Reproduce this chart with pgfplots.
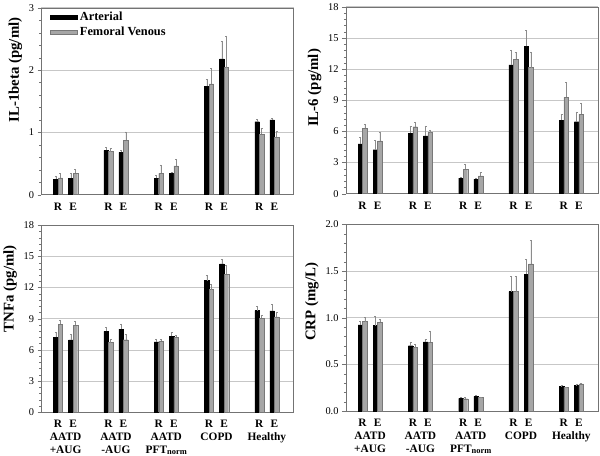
\documentclass[border=0pt]{standalone}
\usepackage{pgfplots}
\pgfplotsset{compat=1.18}
\usepackage{fontspec}
\setmainfont{Liberation Serif}
\definecolor{barg}{RGB}{166,166,166}
\definecolor{bargedge}{RGB}{120,120,120}
\pgfplotsset{
  panel/.style={
    scale only axis, width=255pt, height=189pt, anchor=south west,
    xmin=0.52, xmax=5.53, ymin=0, clip=false,
    ymajorgrids, major grid style={line width=0.6pt, black!22},
    axis line style={black!55},
    xtick={0.85,1.15,1.85,2.15,2.85,3.15,3.85,4.15,4.85,5.15},
    xticklabels={R,E,R,E,R,E,R,E,R,E},
    x tick style={draw=none},
    x tick label style={font=\bfseries\fontsize{11.5}{11.5}\selectfont, yshift=-1pt},
    ytick pos=left, tick align=outside, minor y tick num=4,
    major tick length=4pt, minor tick length=2pt,
    y tick style={black!55},
    y tick label style={font=\fontsize{10.5}{10.5}\selectfont},
    /pgf/number format/assume math mode=true,
    ylabel style={font=\bfseries\fontsize{15}{15}\selectfont},
  },
  art/.style={ybar, bar shift=0pt, bar width=0.09, fill=black, draw=black, line width=0.3pt,
    error bars/.cd, y dir=plus, y explicit,
    error bar style={black!45, line width=0.5pt},
    error mark options={rotate=90, black!45, mark size=1pt}},
  fem/.style={ybar, bar shift=0pt, bar width=0.09, fill=barg, draw=bargedge, line width=0.3pt,
    error bars/.cd, y dir=plus, y explicit,
    error bar style={black!45, line width=0.5pt},
    error mark options={rotate=90, black!45, mark size=1pt}},
}
\tikzset{glab/.style={font=\bfseries\fontsize{11.5}{13}\selectfont, align=center, anchor=north, inner sep=0pt, yshift=-21pt}}
\newcommand{\grouplabels}{%
  \node[glab] at (axis cs:1,0) {AATD\\+AUG};
  \node[glab] at (axis cs:2,0) {AATD\\-AUG};
  \node[glab] at (axis cs:3,0) {AATD\\PFT\raisebox{-0.8pt}{\fontsize{8.5}{8.5}\selectfont norm}};
  \node[glab] at (axis cs:4,0) {COPD};
  \node[glab] at (axis cs:5,0) {Healthy};
}
\begin{document}
\begin{tikzpicture}
\path (0pt,0pt) rectangle (600pt,458pt);

% Panel 1: IL-1beta
\begin{axis}[panel, at={(35pt,264pt)}, ymax=3, ytick={0,1,2,3},
  ylabel={IL-1beta (pg/ml)}, ylabel style={at={(ticklabel cs:0.667)}},
  legend style={at={(0.035,0.99)}, anchor=north west, draw=none, fill=none, inner sep=0pt,
    font=\bfseries\fontsize{12.5}{12.5}\selectfont, row sep=0pt,
    nodes={inner sep=2.5pt}},
  legend cell align=left,
  legend image code/.code={\fill[#1] (0pt,-2.2pt) rectangle (27pt,2.2pt);},
]
\addplot[art] table[x=x, y=y, y error=e, row sep=\\] {
x y e\\
0.805 0.25 0.05\\
1.105 0.26 0.08\\
1.805 0.71 0.05\\
2.105 0.68 0.04\\
2.805 0.26 0.05\\
3.105 0.34 0.02\\
3.805 1.74 0.11\\
4.105 2.18 0.29\\
4.805 1.17 0.04\\
5.105 1.20 0.03\\
};
\addplot[fem] table[x=x, y=y, y error=e, row sep=\\] {
x y e\\
0.895 0.27 0.07\\
1.195 0.34 0.07\\
1.895 0.69 0.05\\
2.195 0.87 0.14\\
2.895 0.34 0.14\\
3.195 0.46 0.11\\
3.895 1.78 0.25\\
4.195 2.04 0.51\\
4.895 0.97 0.09\\
5.195 0.92 0.10\\
};
\legend{Arterial, Femoral Venous}
\end{axis}

% Panel 2: IL-6
\begin{axis}[panel, at={(343pt,265pt)}, ymax=18, ytick={0,3,6,9,12,15,18},
  ylabel={IL-6 (pg/ml)}, ylabel style={at={(ticklabel cs:0.566)}}]
\addplot[art] table[x=x, y=y, y error=e, row sep=\\] {
x y e\\
0.805 4.80 0.60\\
1.105 4.23 0.87\\
1.805 5.82 0.70\\
2.105 5.56 0.96\\
2.805 1.49 0.13\\
3.105 1.40 0.10\\
3.805 12.40 1.46\\
4.105 14.18 1.52\\
4.805 7.09 0.57\\
5.105 6.93 0.96\\
};
\addplot[fem] table[x=x, y=y, y error=e, row sep=\\] {
x y e\\
0.895 6.30 0.40\\
1.195 5.09 0.79\\
1.895 6.45 0.42\\
2.195 5.88 0.26\\
2.895 2.35 0.48\\
3.195 1.72 0.31\\
3.895 12.97 0.61\\
4.195 12.15 1.52\\
4.895 9.28 1.47\\
5.195 7.66 1.08\\
};
\end{axis}

% Panel 3: TNFa
\begin{axis}[panel, at={(35pt,44pt)}, ymax=18, ytick={0,3,6,9,12,15,18},
  ylabel={TNFa (pg/ml)}, ylabel style={at={(ticklabel cs:0.66)}}]
\addplot[art] table[x=x, y=y, y error=e, row sep=\\] {
x y e\\
0.805 7.20 0.45\\
1.105 6.95 0.57\\
1.805 7.78 0.41\\
2.105 8.00 0.50\\
2.805 6.76 0.29\\
3.105 7.33 0.32\\
3.805 12.67 0.50\\
4.105 14.29 0.41\\
4.805 9.78 0.38\\
5.105 9.75 0.66\\
};
\addplot[fem] table[x=x, y=y, y error=e, row sep=\\] {
x y e\\
0.895 8.44 0.42\\
1.195 8.38 0.35\\
1.895 6.70 0.32\\
2.195 6.98 0.48\\
2.895 6.83 0.15\\
3.195 7.20 0.17\\
3.895 11.80 0.50\\
4.195 13.27 0.89\\
4.895 9.05 0.25\\
5.195 9.17 0.43\\
};
\grouplabels
\end{axis}

% Panel 4: CRP
\begin{axis}[panel, at={(343pt,45pt)}, ymax=2, ytick={0,0.5,1,1.5,2},
  yticklabel style={/pgf/number format/.cd, fixed, fixed zerofill, precision=1},
  ylabel={CRP (mg/L)}, ylabel style={at={(ticklabel cs:0.585)}}]
\addplot[art] table[x=x, y=y, y error=e, row sep=\\] {
x y e\\
0.805 0.923 0.042\\
1.105 0.916 0.100\\
1.805 0.700 0.040\\
2.105 0.740 0.030\\
2.805 0.137 0.010\\
3.105 0.158 0.014\\
3.805 1.280 0.165\\
4.105 1.467 0.158\\
4.805 0.267 0.007\\
5.105 0.277 0.007\\
};
\addplot[fem] table[x=x, y=y, y error=e, row sep=\\] {
x y e\\
0.895 0.958 0.042\\
1.195 0.951 0.035\\
1.895 0.680 0.040\\
2.195 0.737 0.123\\
2.895 0.133 0.011\\
3.195 0.147 0.007\\
3.895 1.280 0.165\\
4.195 1.575 0.250\\
4.895 0.253 0.007\\
5.195 0.291 0.007\\
};
\grouplabels
\end{axis}
\end{tikzpicture}
\end{document}
